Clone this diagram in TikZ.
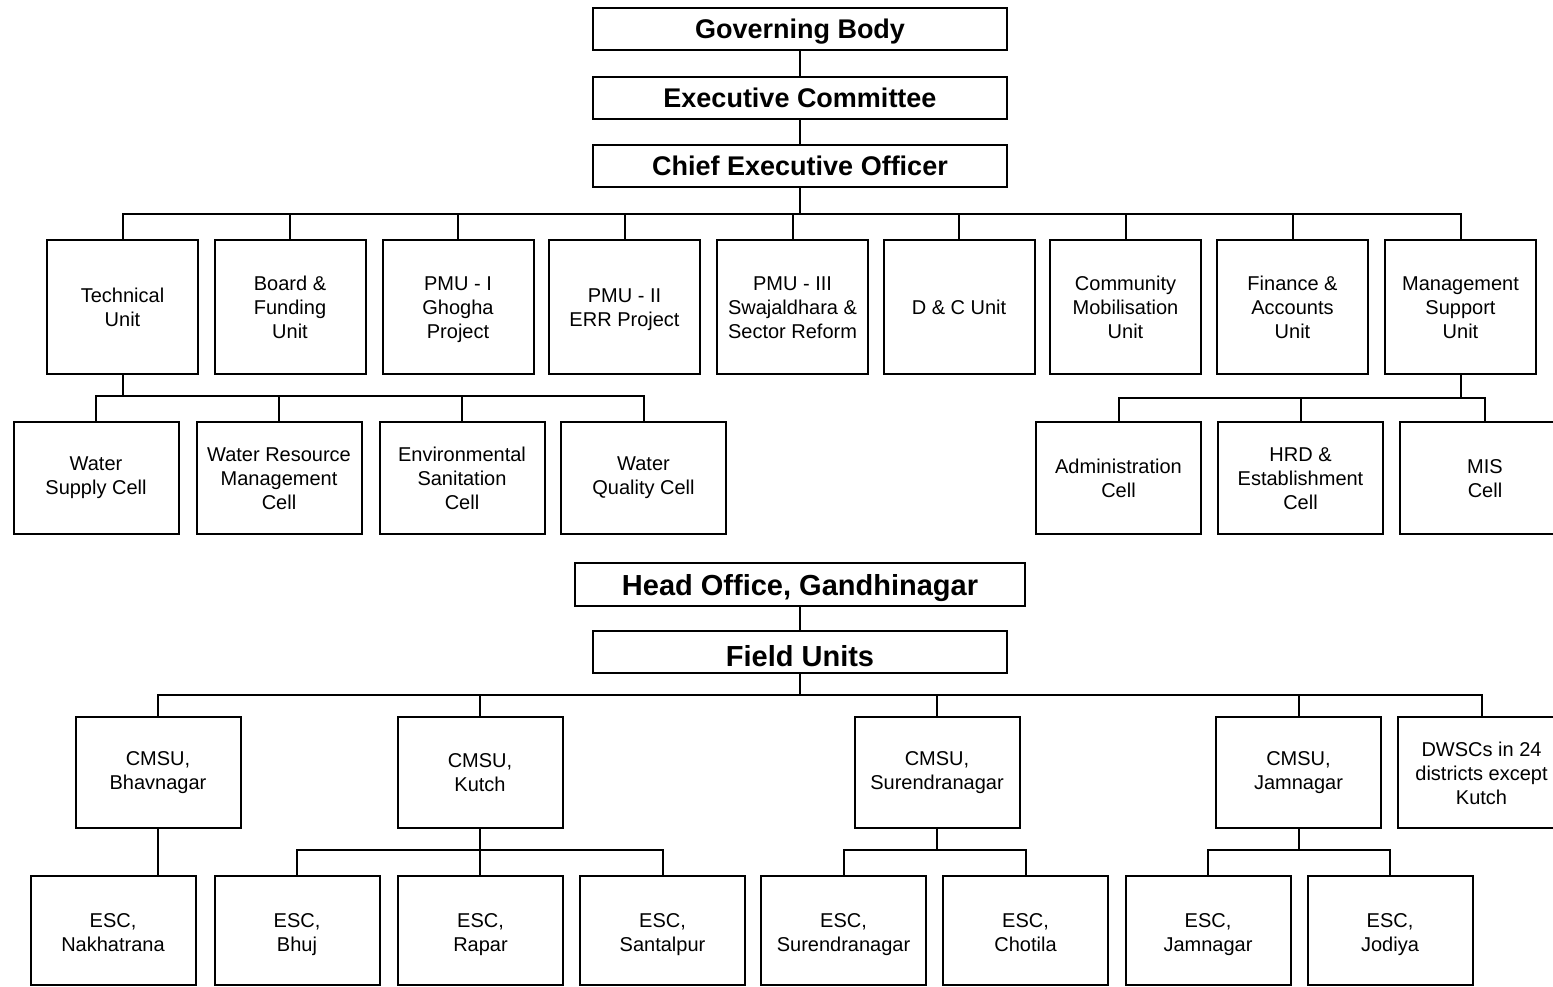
\documentclass[tikz,border=0pt]{standalone}
\usepackage{fontspec}
\setmainfont{Liberation Sans}
\begin{document}
\begin{tikzpicture}[x=1pt,y=-1pt,
  box/.style={draw, line width=2pt, rectangle, align=center, inner sep=0pt,
              font=\fontsize{20}{24}\selectfont},
  lines two/.style={text height=38pt, text depth=0pt},
  lines three/.style={text height=63pt, text depth=0pt},
  head/.style={box, minimum width=414pt, minimum height=42pt, text depth=0pt,
               font=\fontsize{27}{32}\selectfont\bfseries},
  unitbox/.style={box, minimum width=151pt, minimum height=134pt},
  cellbox/.style={box, minimum width=165pt, minimum height=112pt},
  cmsubox/.style={box, minimum width=165pt, minimum height=111pt},
  escbox/.style={box, minimum width=165pt, minimum height=109pt, text height=42pt, text depth=0pt},
  link/.style={line width=2pt}]
\useasboundingbox (0,0) rectangle (1553,987);
\fill[white] (0,0) rectangle (1553,987);

% top hierarchy
\node[head] (gb)  at (800,29)  {Governing Body};
\node[head] (ec)  at (800,98)  {Executive Committee};
\node[head] (ceo) at (800,166) {Chief Executive Officer};

% units
\node[unitbox, lines two] (tu) at (122.5,307) {Technical\\Unit};
\node[unitbox, lines three] (bf) at (290,307)   {Board \&\\Funding\\Unit};
\node[unitbox, lines three] (p1) at (458,307)   {PMU - I\\Ghogha\\Project};
\node[unitbox, lines two] (p2) at (624.5,307) {PMU - II\\ERR Project};
\node[unitbox, lines three] (p3) at (792.5,307) {PMU - III\\Swajaldhara \&\\Sector Reform};
\node[unitbox] (dc) at (959,307)   {D \& C Unit};
\node[unitbox, lines three] (cm) at (1125.5,307) {Community\\Mobilisation\\Unit};
\node[unitbox, lines three] (fa) at (1292.5,307) {Finance \&\\Accounts\\Unit};
\node[unitbox, lines three] (ms) at (1460.5,307) {Management\\Support\\Unit};

% cells
\node[cellbox] (ws) at (96,478)    {Water\\Supply Cell};
\node[cellbox, lines three] (wr) at (279,478)   {Water Resource\\Management\\Cell};
\node[cellbox, lines three] (es) at (462,478)   {Environmental\\Sanitation\\Cell};
\node[cellbox] (wq) at (643.5,478) {Water\\Quality Cell};
\node[cellbox, lines two] (ad) at (1118.5,478) {Administration\\Cell};
\node[cellbox, lines three] (hr) at (1300.5,478) {HRD \&\\Establishment\\Cell};
\node[cellbox, lines two, minimum width=170pt] (mis) at (1485,478) {MIS\\Cell};

% head office / field units
\node[head, minimum width=450pt, minimum height=43pt,
      font=\fontsize{29}{34}\selectfont\bfseries] (ho) at (800,584.5) {Head Office, Gandhinagar};
\node[head, font=\fontsize{29}{34}\selectfont\bfseries, text height=28pt] (fu) at (800,652) {Field Units};

% CMSU row
\node[cmsubox] (cb) at (158,772.5)    {CMSU,\\Bhavnagar};
\node[cmsubox] (ck) at (480,772.5)    {CMSU,\\Kutch};
\node[cmsubox] (cs) at (937,772.5)    {CMSU,\\Surendranagar};
\node[cmsubox] (cj) at (1298.5,772.5) {CMSU,\\Jamnagar};
\node[cmsubox, lines three, minimum width=167pt] (dw) at (1481.5,772.5) {DWSCs in 24\\districts except\\Kutch};

% ESC row
\node[escbox] (en)  at (113,930.5)    {ESC,\\Nakhatrana};
\node[escbox] (eb)  at (297,930.5)    {ESC,\\Bhuj};
\node[escbox] (er)  at (480.5,930.5)  {ESC,\\Rapar};
\node[escbox] (esa) at (662.5,930.5)  {ESC,\\Santalpur};
\node[escbox] (esu) at (843.5,930.5)  {ESC,\\Surendranagar};
\node[escbox] (ech) at (1025.5,930.5) {ESC,\\Chotila};
\node[escbox] (ej)  at (1208,930.5)   {ESC,\\Jamnagar};
\node[escbox] (ejo) at (1390,930.5)   {ESC,\\Jodiya};

% bus coordinates
\coordinate (busA) at (0,214);
\coordinate (busT) at (0,396);
\coordinate (busM) at (0,398);
\coordinate (busF) at (0,695);
\coordinate (busE) at (0,850);

% connectors: top
\draw[link] (gb.south) -- (ec.north);
\draw[link] (ec.south) -- (ceo.north);
\draw[link] (ceo.south) -- (ceo.south |- busA);
\draw[link] (tu.north) -- (tu.north |- busA) -- (ms.north |- busA) -- (ms.north);
\foreach \n in {bf,p1,p2,p3,dc,cm,fa}
  \draw[link] (\n.north) -- (\n.north |- busA);

% technical unit cells
\draw[link] (tu.south) -- (tu.south |- busT);
\draw[link] (ws.north) -- (ws.north |- busT) -- (wq.north |- busT) -- (wq.north);
\foreach \n in {wr,es}
  \draw[link] (\n.north) -- (\n.north |- busT);

% management support cells
\draw[link] (ms.south) -- (ms.south |- busM);
\draw[link] (ad.north) -- (ad.north |- busM) -- (mis.north |- busM) -- (mis.north);
\draw[link] (hr.north) -- (hr.north |- busM);

% head office to field units
\draw[link] (ho.south) -- (fu.north);
\draw[link] (fu.south) -- (fu.south |- busF);
\draw[link] (cb.north) -- (cb.north |- busF) -- (dw.north |- busF) -- (dw.north);
\foreach \n in {ck,cs,cj}
  \draw[link] (\n.north) -- (\n.north |- busF);

% CMSU to ESC
\draw[link] (cb.south) -- (cb.south |- en.north);
\draw[link] (ck.south) -- (ck.south |- er.north);
\draw[link] (eb.north) -- (eb.north |- busE) -- (esa.north |- busE) -- (esa.north);
\draw[link] (cs.south) -- (cs.south |- busE);
\draw[link] (esu.north) -- (esu.north |- busE) -- (ech.north |- busE) -- (ech.north);
\draw[link] (cj.south) -- (cj.south |- busE);
\draw[link] (ej.north) -- (ej.north |- busE) -- (ejo.north |- busE) -- (ejo.north);
\end{tikzpicture}
\end{document}
